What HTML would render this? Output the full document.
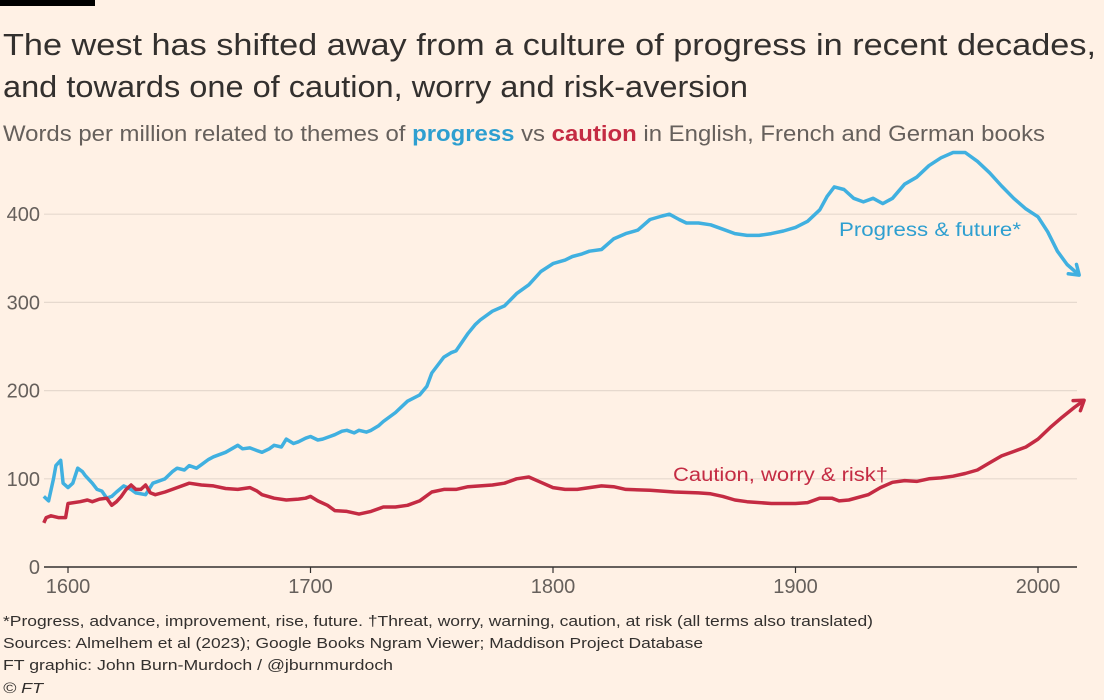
<!DOCTYPE html>
<html><head><meta charset="utf-8"><style>
html,body{margin:0;padding:0;background:#FFF1E5;}
svg{display:block;font-family:"Liberation Sans",sans-serif;}
</style></head><body>
<svg id="s" width="1104" height="700" viewBox="0 0 1104 700">
<rect width="1104" height="700" fill="#FFF1E5"/>
<rect x="0" y="0" width="95" height="6" fill="#000"/>
<text x="3" y="55" font-size="31" fill="#33302E" textLength="1093" lengthAdjust="spacingAndGlyphs">The west has shifted away from a culture of progress in recent decades,</text>
<text x="3" y="97" font-size="31" fill="#33302E" textLength="745" lengthAdjust="spacingAndGlyphs">and towards one of caution, worry and risk-aversion</text>
<text x="3" y="141" font-size="22" fill="#66605C" textLength="1042" lengthAdjust="spacingAndGlyphs">Words per million related to themes of <tspan fill="#2E9FD0" font-weight="bold">progress</tspan> vs <tspan fill="#C42B43" font-weight="bold">caution</tspan> in English, French and German books</text>
<g id="grid" stroke="#E6D9CE" stroke-width="1.2"></g>
<g id="ylab" font-size="20" fill="#66605C" text-anchor="end"></g>
<line x1="44" y1="567" x2="1077" y2="567" stroke="#33302E" stroke-width="1.5"/>
<g id="xt" font-size="20" fill="#66605C" text-anchor="middle"></g>
<path id="blue" fill="none" stroke="#40B0E0" stroke-width="3.5" stroke-linejoin="round"/>
<path id="red" fill="none" stroke="#C42B43" stroke-width="3.5" stroke-linejoin="round"/>
<path id="ba" fill="none" stroke="#40B0E0" stroke-width="3.5" stroke-linecap="round" stroke-linejoin="round"/>
<path id="ra" fill="none" stroke="#C42B43" stroke-width="3.5" stroke-linecap="round" stroke-linejoin="round"/>
<text x="839" y="236" font-size="19" fill="#2E9FD0" textLength="182" lengthAdjust="spacingAndGlyphs">Progress &amp; future*</text>
<text x="673" y="481" font-size="19" fill="#C42B43" textLength="215" lengthAdjust="spacingAndGlyphs">Caution, worry &amp; risk†</text>
<g font-size="15" fill="#33302E">
<text x="3" y="626" textLength="870" lengthAdjust="spacingAndGlyphs">*Progress, advance, improvement, rise, future. †Threat, worry, warning, caution, at risk (all terms also translated)</text>
<text x="3" y="648" textLength="700" lengthAdjust="spacingAndGlyphs">Sources: Almelhem et al (2023); Google Books Ngram Viewer; Maddison Project Database</text>
<text x="3" y="670" textLength="390" lengthAdjust="spacingAndGlyphs">FT graphic: John Burn-Murdoch / @jburnmurdoch</text>
<text x="3" y="693" font-style="italic" textLength="40" lengthAdjust="spacingAndGlyphs">© FT</text>
</g>
</svg>
<script>
var X=function(y){return 68+(y-1600)*2.425;},Y=function(v){return 567-v*0.882;};
var ns="http://www.w3.org/2000/svg";
function el(p,t,a,txt){var e=document.createElementNS(ns,t);for(var k in a)e.setAttribute(k,a[k]);if(txt)e.textContent=txt;document.getElementById(p).appendChild(e);}
[100,200,300,400].forEach(function(v){el("grid","line",{x1:44,x2:1077,y1:Y(v),y2:Y(v)});});
[0,100,200,300,400].forEach(function(v){el("ylab","text",{x:40,y:Y(v)+7},String(v));});
[1600,1700,1800,1900,2000].forEach(function(y){el("xt","line",{x1:X(y),x2:X(y),y1:567,y2:573,stroke:"#33302E","stroke-width":1.2});el("xt","text",{x:X(y),y:593},String(y));});
var b=[1590,80,1592,75,1594,100,1595,115,1597,121,1598,95,1600,90,1602,95,1604,112,1606,108,1607,104,1610,95,1612,88,1614,86,1616,78,1618,80,1620,85,1623,92,1626,88,1628,84,1632,82,1635,95,1638,98,1640,100,1643,108,1645,112,1648,110,1650,115,1653,112,1655,116,1658,122,1660,125,1665,130,1670,138,1672,134,1675,135,1678,132,1680,130,1683,134,1685,138,1688,136,1690,145,1693,140,1695,142,1698,146,1700,148,1703,144,1705,145,1708,148,1710,150,1713,154,1715,155,1718,152,1720,155,1723,153,1725,155,1728,160,1730,165,1735,175,1740,188,1745,195,1748,205,1750,220,1755,238,1758,243,1760,245,1765,265,1768,275,1770,280,1775,290,1780,296,1785,310,1790,320,1795,335,1800,344,1805,348,1808,352,1812,355,1815,358,1820,360,1825,372,1830,378,1835,382,1840,394,1845,398,1848,400,1852,394,1855,390,1860,390,1865,388,1870,383,1875,378,1880,376,1885,376,1890,378,1895,381,1900,385,1905,392,1910,405,1913,420,1916,431,1920,428,1924,418,1928,414,1932,418,1936,412,1940,418,1945,434,1950,442,1955,455,1960,464,1965,470,1970,470,1975,460,1980,447,1985,432,1990,418,1995,406,2000,397,2004,380,2008,358,2012,343,2017,331];
var r=[1590,50,1591,56,1593,58,1596,56,1599,56,1600,72,1605,74,1608,76,1610,74,1613,77,1616,78,1618,70,1620,74,1622,80,1624,88,1626,93,1628,88,1630,88,1632,93,1634,84,1636,82,1640,85,1645,90,1650,95,1655,93,1660,92,1665,89,1670,88,1675,90,1678,86,1680,82,1685,78,1690,76,1695,77,1698,78,1700,80,1703,75,1707,70,1710,64,1715,63,1720,60,1725,63,1730,68,1735,68,1740,70,1745,75,1750,85,1755,88,1760,88,1765,91,1770,92,1775,93,1780,95,1785,100,1790,102,1795,96,1800,90,1805,88,1810,88,1815,90,1820,92,1825,91,1830,88,1840,87,1850,85,1860,84,1865,83,1870,80,1875,76,1880,74,1890,72,1900,72,1905,73,1910,78,1915,78,1918,75,1922,76,1930,82,1935,90,1940,96,1945,98,1950,97,1955,100,1960,101,1965,103,1970,106,1975,110,1980,118,1985,126,1990,131,1995,136,2000,145,2005,158,2010,170,2015,181,2019,189];
function d(a){var s="";for(var i=0;i<a.length;i+=2)s+=(i?"L":"M")+X(a[i]).toFixed(1)+" "+Y(a[i+1]).toFixed(1);return s;}
document.getElementById("blue").setAttribute("d",d(b));
document.getElementById("red").setAttribute("d",d(r));
function arrow(id,a){var n=a.length,x1=X(a[n-4]),y1=Y(a[n-3]),x2=X(a[n-2]),y2=Y(a[n-1]);var ang=Math.atan2(y2-y1,x2-x1),L=11,w=0.6;
var p=(x2-L*Math.cos(ang-w)).toFixed(1)+" "+(y2-L*Math.sin(ang-w)).toFixed(1);var q=(x2-L*Math.cos(ang+w)).toFixed(1)+" "+(y2-L*Math.sin(ang+w)).toFixed(1);
document.getElementById(id).setAttribute("d","M"+p+"L"+x2.toFixed(1)+" "+y2.toFixed(1)+"L"+q);}
arrow("ba",b);arrow("ra",r);
</script>
</body></html>
